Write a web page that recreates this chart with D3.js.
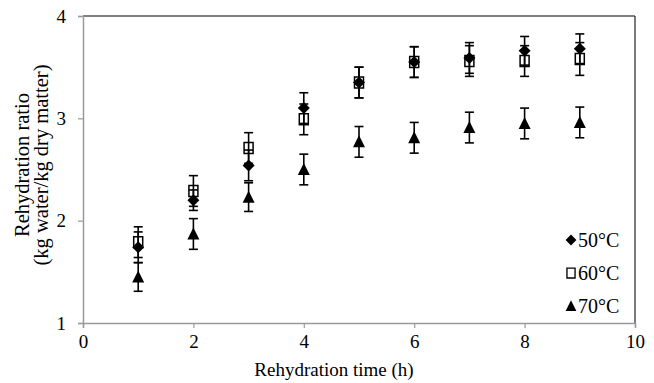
<!DOCTYPE html>
<html>
<head>
<meta charset="utf-8">
<script src="https://cdn.jsdelivr.net/npm/d3@7"></script>
</head>
<body style="margin:0;background:#fff">
<svg id="chart" width="654" height="383"></svg>
<script>
"use strict";

/* values */
const hours = [1, 2, 3, 4, 5, 6, 7, 8, 9];
const ratio50 = [1.74, 2.20, 2.54, 3.10, 3.35, 3.55, 3.59, 3.66, 3.68];
const err50 = [0.15, 0.10, 0.15, 0.15, 0.15, 0.15, 0.15, 0.14, 0.145];
const ratio60 = [1.79, 2.29, 2.71, 2.99, 3.35, 3.55, 3.56, 3.56, 3.58];
const err60 = [0.15, 0.15, 0.15, 0.15, 0.15, 0.15, 0.15, 0.15, 0.16];
const ratio70 = [1.45, 1.87, 2.23, 2.50, 2.77, 2.81, 2.91, 2.95, 2.96];
const err70 = [0.14, 0.15, 0.14, 0.15, 0.15, 0.15, 0.15, 0.15, 0.15];
const seriesNames = ["50°C", "60°C", "70°C"];
const xTicks = [0, 2, 4, 6, 8, 10];
const yTicks = [1, 2, 3, 4];

const FONT = "Liberation Serif";
const svg = d3.select("#chart");
const m = { left: 83, right: 19, top: 16, bottom: 60 };
const W = 654, H = 383;

const x = d3.scaleLinear([0, 10], [m.left, W - m.right]);
const y = d3.scaleLinear([1, 4], [H - m.bottom, m.top]);

const series = [
  { name: seriesNames[0], vals: ratio50, errs: err50, shape: "diamond" },
  { name: seriesNames[1], vals: ratio60, errs: err60, shape: "square" },
  { name: seriesNames[2], vals: ratio70, errs: err70, shape: "triangle" },
];

function label(sel, size) {
  return sel.attr("font-family", FONT).attr("font-size", size).attr("fill", "#000");
}

/* frame: dark top/right, gray axes left/bottom */
svg.append("line")
  .attr("x1", x(0)).attr("x2", x(10)).attr("y1", y(4)).attr("y2", y(4))
  .attr("stroke", "#000").attr("stroke-width", 1.2);
svg.append("line")
  .attr("x1", x(10)).attr("x2", x(10)).attr("y1", y(4)).attr("y2", y(1))
  .attr("stroke", "#222").attr("stroke-width", 1.2);

const xAxis = svg.append("g")
  .attr("transform", `translate(0,${y(1)})`)
  .call(d3.axisBottom(x).tickValues(xTicks).tickSize(5).tickPadding(7).tickFormat(d3.format("d")));
const yAxis = svg.append("g")
  .attr("transform", `translate(${x(0)},0)`)
  .call(d3.axisLeft(y).tickValues(yTicks).tickSize(5).tickPadding(12).tickFormat(d3.format("d")));

for (const ax of [xAxis, yAxis]) {
  ax.attr("font-family", FONT).attr("font-size", 19);
  ax.select(".domain").attr("stroke", "#9a9a9a").attr("stroke-width", 1.5);
  ax.selectAll(".tick line").attr("stroke", "#9a9a9a").attr("stroke-width", 1.2);
  label(ax.selectAll(".tick text"), 19);
}

/* axis titles */
label(svg.append("text"), 19)
  .attr("x", 334).attr("y", 376)
  .attr("text-anchor", "middle")
  .text("Rehydration time (h)");

const yMid = 165;
label(svg.append("text"), 20.5)
  .attr("transform", `translate(29,${yMid}) rotate(-90)`)
  .attr("text-anchor", "middle")
  .text("Rehydration ratio");
label(svg.append("text"), 20.5)
  .attr("transform", `translate(48,${yMid}) rotate(-90)`)
  .attr("text-anchor", "middle")
  .text("(kg water/kg dry matter)");

/* marker shapes */
function markerPath(shape) {
  if (shape === "diamond") return "M0,-6L6,0L0,6L-6,0Z";
  if (shape === "square") return "M-4.5,-5.5H4.5V5.5H-4.5Z";
  return "M0,-6.5L6,5.5H-6Z";
}
function styleMarker(sel, shape) {
  if (shape === "square") {
    sel.attr("fill", "none").attr("stroke", "#000").attr("stroke-width", 1.5);
  } else {
    sel.attr("fill", "#000");
  }
}

/* error bars then markers, per series in order */
for (const s of series) {
  const pts = hours.map((h, i) => ({ h, v: s.vals[i], e: s.errs[i] }));
  const g = svg.append("g");
  const eb = g.selectAll("g.eb").data(pts).join("g").attr("class", "eb")
    .attr("stroke", "#000").attr("stroke-width", 1.6);
  eb.append("line")
    .attr("x1", (d) => x(d.h)).attr("x2", (d) => x(d.h))
    .attr("y1", (d) => y(d.v + d.e)).attr("y2", (d) => y(d.v - d.e));
  for (const sign of [1, -1]) {
    eb.append("line")
      .attr("x1", (d) => x(d.h) - 4.5).attr("x2", (d) => x(d.h) + 4.5)
      .attr("y1", (d) => y(d.v + sign * d.e)).attr("y2", (d) => y(d.v + sign * d.e));
  }
  const mk = g.selectAll("path.mk").data(pts).join("path").attr("class", "mk")
    .attr("d", markerPath(s.shape))
    .attr("transform", (d) => `translate(${x(d.h)},${y(d.v)})`);
  styleMarker(mk, s.shape);
}

/* legend */
const legend = svg.append("g");
series.forEach((s, i) => {
  const ly = 240 + i * 33;
  const mk = legend.append("path")
    .attr("d", markerPath(s.shape))
    .attr("transform", `translate(571,${ly}) scale(0.9)`);
  styleMarker(mk, s.shape);
  label(legend.append("text"), 20)
    .attr("x", 578).attr("y", ly + 7)
    .text(s.name);
});
</script>
</body>
</html>
